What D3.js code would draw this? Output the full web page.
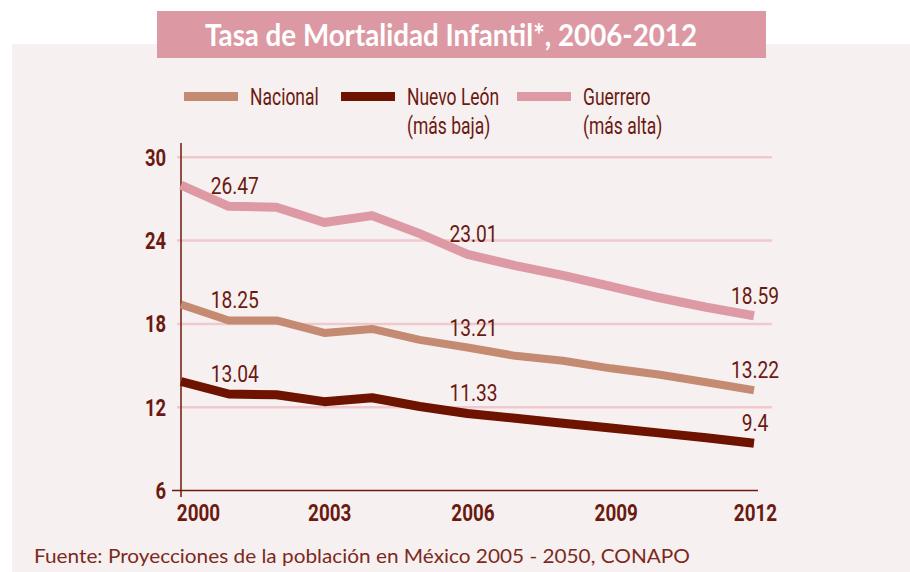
<!DOCTYPE html>
<html lang="es">
<head>
<meta charset="UTF-8">
<title>Tasa de Mortalidad Infantil</title>
<script src="https://cdn.jsdelivr.net/npm/d3@7"></script>
<style>
    body { margin: 0; background: #fff; }
    svg text { font-family: Roboto, "DejaVu Sans Condensed", sans-serif; fill: #6b1a10; }
    .tick text { font-weight: bold; font-size: 23px; }
</style>
</head>
<body>
<div class="chart"></div>
<script>
// datos
var years     = [2000, 2001, 2002, 2003, 2004, 2005, 2006, 2007, 2008, 2009, 2010, 2011, 2012];
var nacional  = [19.4, 18.25, 18.25, 17.35, 17.64, 16.85, 16.3, 15.7, 15.35, 14.8, 14.35, 13.8, 13.22];
var nuevoLeon = [13.85, 12.95, 12.9, 12.4, 12.68, 12.05, 11.55, 11.2, 10.85, 10.5, 10.15, 9.8, 9.4];
var guerrero  = [28.0, 26.47, 26.4, 25.3, 25.8, 24.5, 23.01, 22.2, 21.5, 20.7, 19.9, 19.2, 18.59];

var seriesNames  = ["Nacional", "Nuevo León", "Guerrero"];
var seriesSub    = ["", "(más baja)", "(más alta)"];
var labelYears   = [2001, 2006, 2012];
var labelsNac    = ["18.25", "13.21", "13.22"];
var labelsNL     = ["13.04", "11.33", "9.4"];
var labelsGro    = ["26.47", "23.01", "18.59"];

var yTicks = [6, 12, 18, 24, 30];
var xTicks = [2000, 2003, 2006, 2009, 2012];

var colors = ["#c48a72", "#6e1300", "#dd9aa5"];

var W = 910, H = 572;

// aprieta el texto horizontalmente (la fuente original es condensada)
function condense(sel, k) {
    sel.each(function() {
        var len = this.getComputedTextLength();
        if (len > 0) d3.select(this).attr("textLength", len * k).attr("lengthAdjust", "spacingAndGlyphs");
    });
}

var svg = d3.select(".chart").append("svg")
    .attr("width", W).attr("height", H);

// fondo
svg.append("rect").attr("x", 12).attr("y", 44).attr("width", W - 12).attr("height", H - 44)
    .attr("fill", "#f7f0f0");

// titulo
svg.append("rect").attr("x", 157).attr("y", 11).attr("width", 609).attr("height", 47)
    .attr("fill", "#dc99a4");
svg.append("text")
    .attr("x", 451).attr("y", 46)
    .attr("text-anchor", "middle")
    .attr("textLength", 492).attr("lengthAdjust", "spacingAndGlyphs")
    .style("font-family", "Lato, 'Open Sans', sans-serif")
    .style("font-weight", "bold").style("font-size", "31px")
    .style("fill", "#fff")
    .text("Tasa de Mortalidad Infantil*, 2006-2012");

var x = d3.scaleLinear().domain([2000, 2012]).range([181, 754]);
var y = d3.scaleLinear().domain([6, 30]).range([490.5, 157.3]);

// rejilla
svg.append("g").selectAll("line").data(yTicks.slice(1)).enter().append("line")
    .attr("x1", 177).attr("x2", 772)
    .attr("y1", d => y(d)).attr("y2", d => y(d))
    .attr("stroke", "#efc9ce").attr("stroke-width", 2.5);

// ejes
var yAxis = svg.append("g").attr("transform", "translate(181,0)")
    .call(d3.axisLeft(y).tickValues(yTicks).tickSize(0).tickPadding(15).tickFormat(d3.format("d")));
yAxis.select(".domain").remove();
yAxis.selectAll(".tick text").attr("dy", "0.35em").call(condense, 0.8);

var xAxis = svg.append("g").attr("transform", "translate(0,490.5)")
    .call(d3.axisBottom(x).tickValues(xTicks).tickSize(0).tickPadding(10).tickFormat(d3.format("d")));
xAxis.select(".domain").remove();
xAxis.selectAll(".tick text")
    .attr("x", (d, i) => i === 0 ? 17 : (i === xTicks.length - 1 ? 1 : 5))
    .attr("dy", "0.88em")
    .call(condense, 0.82);

svg.append("line").attr("x1", 181).attr("x2", 181).attr("y1", 143).attr("y2", 497)
    .attr("stroke", "#6b1a10").attr("stroke-width", 1.5);
svg.append("line").attr("x1", 172).attr("x2", 758).attr("y1", 490.5).attr("y2", 490.5)
    .attr("stroke", "#6b1a10").attr("stroke-width", 1.5);

// lineas
var line = d3.line().x((d, i) => x(years[i])).y(d => y(d));
var data = [nacional, nuevoLeon, guerrero];
var labels = [labelsNac, labelsNL, labelsGro];

svg.append("g").selectAll("path").data(data).enter().append("path")
    .attr("d", line)
    .attr("fill", "none")
    .attr("stroke", (d, i) => colors[i])
    .attr("stroke-width", (d, i) => i === 0 ? 8 : 9)
    .attr("stroke-linejoin", "round");

// etiquetas de valores
data.forEach(function(serie, s) {
    svg.append("g").selectAll("text").data(labelYears).enter().append("text")
        .attr("x", (d, i) => x(d) + (i === 2 ? 1 : 6))
        .attr("y", d => y(serie[years.indexOf(d)]) - 12)
        .attr("text-anchor", "middle")
        .style("font-size", "24px")
        .text((d, i) => labels[s][i])
        .call(condense, 0.8);
});

// leyenda
var legendX = [184, 341, 517];
var legend = svg.append("g").selectAll("g").data(seriesNames).enter().append("g")
    .attr("transform", (d, i) => "translate(" + legendX[i] + ",0)");
legend.append("rect").attr("x", 0).attr("y", 92).attr("width", 54).attr("height", 9)
    .attr("fill", (d, i) => colors[i]);
legend.append("text").attr("x", 66).attr("y", 105)
    .style("font-size", "23px").text(d => d)
    .call(condense, 0.76);
legend.append("text").attr("x", 66).attr("y", 134)
    .style("font-size", "23px").text((d, i) => seriesSub[i])
    .call(condense, 0.76);

// fuente
svg.append("text")
    .attr("x", 34).attr("y", 563)
    .attr("textLength", 656).attr("lengthAdjust", "spacingAndGlyphs")
    .style("font-family", "Lato, 'Open Sans', sans-serif")
    .style("font-size", "20px").style("fill", "#7b2a20")
    .text("Fuente: Proyecciones de la población en México 2005 - 2050, CONAPO");
</script>
</body>
</html>
